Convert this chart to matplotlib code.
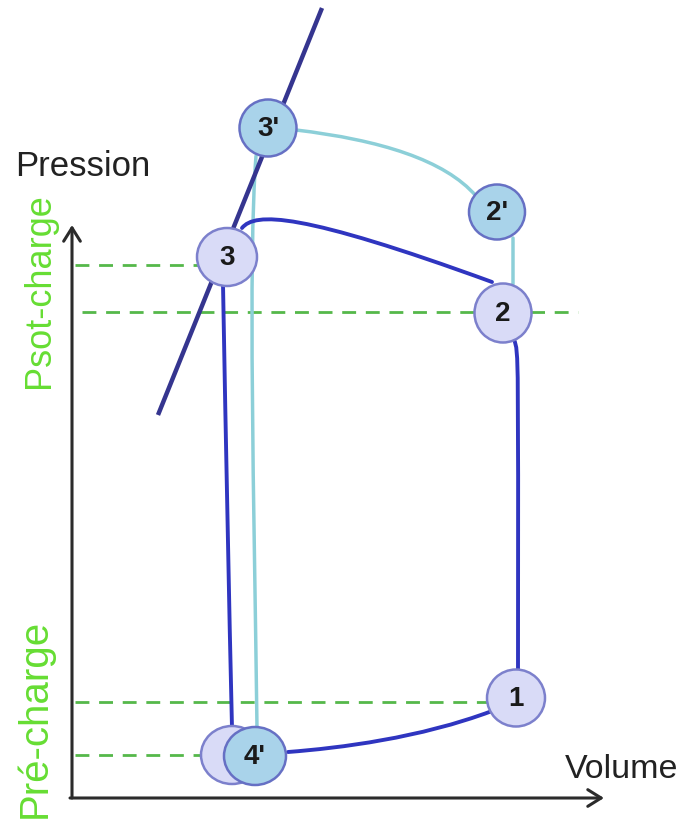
import matplotlib
matplotlib.use("Agg")
import matplotlib.pyplot as plt
from matplotlib.patches import Ellipse, PathPatch, FancyArrowPatch
from matplotlib.path import Path

plt.rcParams['font.family'] = ['Liberation Sans', 'DejaVu Sans']

# ---- data (schematic coordinates, pixel-like units, y grows downward) ----
node_labels = ["3'", "2'", "3", "2", "1", "", "4'"]
node_x = [268, 497, 227, 503, 516, 232, 255]
node_y = [128, 212, 257, 313, 698, 755, 756]
node_w = [57, 56, 60, 57, 58, 62, 62]
node_h = [57, 55, 58, 59, 57, 58, 58]
node_kind = ["b", "b", "l", "l", "l", "l", "b"]

# dashed reference levels (y, x start, x end)
dash_y = [265, 312, 702, 755]
dash_x0 = [75, 82, 75, 75]
dash_x1 = [262, 578, 500, 225]

# ESPVR line endpoints
espvr_x = [158, 322]
espvr_y = [415, 8]

# main loop (dark blue) pieces: bezier control points
loop_top = [(242, 228), (255, 212), (300, 212), (492, 282)]
loop_right = [(514, 340), (519, 350), (518, 360), (518, 672)]
loop_bottom = [(492, 711), (420, 738), (340, 748), (288, 752)]
loop_left = [(223, 284), (226, 450), (229, 600), (232, 728)]

# second loop (light blue)
loop2_left = [(257, 728), (254, 500), (248, 260), (256, 156)]
loop2_top = [(296, 130), (380, 140), (445, 160), (476, 196)]
loop2_right = [(513, 238), (513, 255), (513, 270), (513, 284)]

fig = plt.figure(figsize=(6.85, 8.33), dpi=100)
ax = fig.add_axes([0, 0, 1, 1])
ax.set_xlim(0, 685)
ax.set_ylim(833, 0)
ax.axis('off')

# axes arrows
ax.add_patch(FancyArrowPatch((72, 798), (72, 225), arrowstyle='->,head_length=8,head_width=5',
                             lw=2.2, color='#2b2b2b', mutation_scale=1.2, shrinkA=0, shrinkB=0))
ax.add_patch(FancyArrowPatch((70, 798), (604, 798), arrowstyle='->,head_length=8,head_width=5',
                             lw=2.2, color='#2b2b2b', mutation_scale=1.2, shrinkA=0, shrinkB=0))

# dashed lines
for y, a, b in zip(dash_y, dash_x0, dash_x1):
    ax.plot([a, b], [y, y], ls=(0, (5, 3.5)), color='#55b84a', lw=2, zorder=2)

def bez(pts, color, lw, z=3):
    path = Path(pts, [Path.MOVETO, Path.CURVE4, Path.CURVE4, Path.CURVE4])
    ax.add_patch(PathPatch(path, fill=False, edgecolor=color, lw=lw, zorder=z,
                           capstyle='round'))

c2 = '#8ccfd8'
for seg in (loop2_left, loop2_top, loop2_right):
    bez(seg, c2, 2.5, 3)

c1 = '#2f35c0'
for seg in (loop_top, loop_right, loop_bottom, loop_left):
    bez(seg, c1, 2.8, 4)

ax.plot(espvr_x, espvr_y, color='#35358f', lw=3.2, zorder=5, solid_capstyle='butt')

# nodes
for lab, x, y, w, h, k in zip(node_labels, node_x, node_y, node_w, node_h, node_kind):
    fc = '#a9d3ea' if k == 'b' else '#d9dbf7'
    ec = '#6670c4' if k == 'b' else '#7c80cc'
    ax.add_patch(Ellipse((x, y), w, h, facecolor=fc, edgecolor=ec, lw=1.8, zorder=6))
    if lab:
        ax.text(x, y + 1, lab, ha='center', va='center', fontsize=20, fontweight='bold',
                color='#1a1a1a', zorder=7)

# texts
ax.text(15, 166, 'Pression', fontsize=25, color='#222222', va='center', ha='left')
ax.text(565, 770, 'Volume', fontsize=24.5, color='#222222', va='center', ha='left')
ax.text(40, 291, 'Psot-charge', fontsize=26, color='#66dd33', rotation=90,
        ha='center', va='center')
ax.text(35, 718, 'Pré-charge', fontsize=29, color='#66dd33', rotation=90,
        ha='center', va='center')

fig.savefig('out.png', dpi=100)
